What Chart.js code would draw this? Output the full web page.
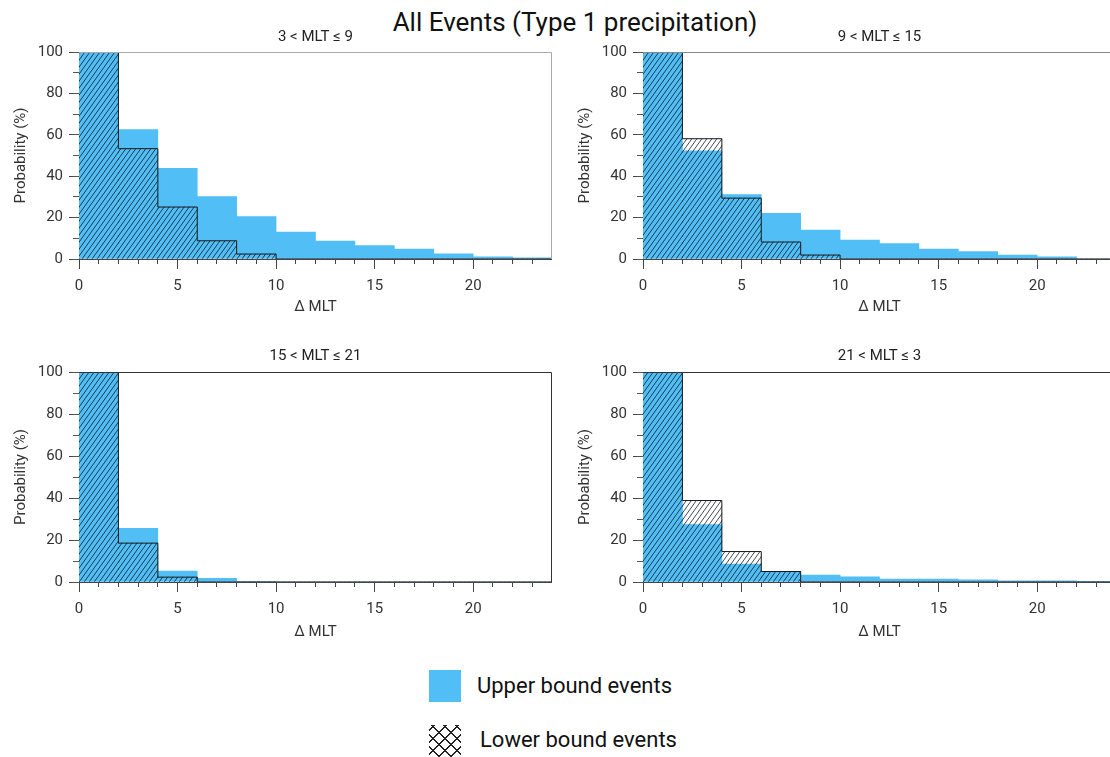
<!DOCTYPE html>
<html>
<head>
<meta charset="utf-8">
<script src="https://cdn.jsdelivr.net/npm/chart.js@4.4.1/dist/chart.umd.min.js"></script>
<style>
  html, body { margin: 0; padding: 0; background: #fff; width: 1110px; height: 757px; overflow: hidden; }
  body { position: relative; font-family: Roboto, "Noto Sans", sans-serif; color: #111; }
  canvas { position: absolute; }
  #main-title { position: absolute; left: 325px; width: 500px; top: 6px; text-align: center; font-size: 26px; line-height: 32px; }
  .swatch { position: absolute; left: 429px; width: 32px; height: 32px; }
  .swatch.blue { top: 670px; background: #51bef6; }
  .swatch.cross { top: 725px; background:
      repeating-linear-gradient(45deg, transparent 0 7px, #222 7px 8.4px),
      repeating-linear-gradient(-45deg, transparent 0 7px, #222 7px 8.4px); }
  .lbl { position: absolute; font-size: 22px; line-height: 26px; color: #111; }
</style>
</head>
<body>
<div id="main-title">All Events (Type 1 precipitation)</div>

<canvas id="c1" width="540" height="291" style="left:12px; top:28px"></canvas>
<canvas id="c2" width="540" height="291" style="left:576px; top:28px"></canvas>
<canvas id="c3" width="540" height="295" style="left:12px; top:347px"></canvas>
<canvas id="c4" width="540" height="295" style="left:576px; top:347px"></canvas>

<div class="swatch blue"></div>
<div class="lbl" style="left:477px; top:673px">Upper bound events</div>
<div class="swatch cross"></div>
<div class="lbl" style="left:480px; top:727px">Lower bound events</div>

<script>
// Bins de ΔMLT (ancho 2 h)
const binEdges = [0, 2, 4, 6, 8, 10, 12, 14, 16, 18, 20, 22, 24];
const xTickLabels = [0, 5, 10, 15, 20];
const yTickLabels = [0, 20, 40, 60, 80, 100];

const panelTitles = ['3 < MLT ≤ 9', '9 < MLT ≤ 15', '15 < MLT ≤ 21', '21 < MLT ≤ 3'];

// Probabilidad (%) por bin
const upperDawn  = [100, 62.5, 43.8, 30.1, 20.5, 13.0, 8.7, 6.5, 4.8, 2.5, 1.1, 0.6];
const lowerDawn  = [100, 53.3, 25.1, 8.8, 2.4, 0, 0, 0, 0, 0, 0, 0];
const upperNoon  = [100, 52.2, 31.1, 22.1, 14.0, 9.2, 7.4, 4.8, 3.6, 1.9, 1.1, 0];
const lowerNoon  = [100, 58.1, 29.4, 8.2, 1.9, 0, 0, 0, 0, 0, 0, 0];
const upperDusk  = [100, 25.6, 5.2, 1.7, 0.3, 0, 0, 0, 0, 0, 0, 0];
const lowerDusk  = [100, 18.5, 2.3, 0, 0, 0, 0, 0, 0, 0, 0, 0];
const upperNight = [100, 27.4, 8.5, 5.0, 3.3, 2.5, 1.4, 1.4, 1.0, 0.6, 0.5, 0.3];
const lowerNight = [100, 38.8, 14.5, 5.0, 0, 0, 0, 0, 0, 0, 0, 0];

const BLUE = '#51bef6';
const FONT = 15;
Chart.defaults.font.family = 'Roboto, "Noto Sans", sans-serif';
Chart.defaults.color = '#333';

// Trama diagonal para los eventos de cota inferior
function makeHatch() {
    const c = document.createElement('canvas');
    c.width = 5; c.height = 7;
    const g = c.getContext('2d');
    g.strokeStyle = 'rgba(10,20,30,0.85)';
    g.lineWidth = 0.9;
    g.beginPath();
    g.moveTo(0, 7); g.lineTo(5, 0);
    g.moveTo(-5, 7); g.lineTo(0, 0);
    g.moveTo(5, 7); g.lineTo(10, 0);
    g.stroke();
    return g.createPattern(c, 'repeat');
}
const hatch = makeHatch();

// Marco superior y derecho del área de datos
const framePlugin = {
    id: 'frame',
    afterDatasetsDraw(chart, args, opts) {
        const { ctx, chartArea: a } = chart;
        ctx.save();
        ctx.strokeStyle = opts.color || '#888';
        ctx.lineWidth = 1;
        ctx.beginPath();
        ctx.moveTo(a.left, a.top + 0.5);
        ctx.lineTo(a.right - 0.5, a.top + 0.5);
        ctx.lineTo(a.right - 0.5, a.bottom);
        ctx.stroke();
        ctx.restore();
    }
};

function barsFrom(values) {
    return values.map((v, i) => ({ x: (binEdges[i] + binEdges[i + 1]) / 2, y: v }));
}

function stepFrom(values) {
    const pts = values.map((v, i) => ({ x: binEdges[i], y: v }));
    pts.push({ x: binEdges[binEdges.length - 1], y: 0 });
    return pts;
}

function crearPanel(id, title, upper, lower, cfg) {
    const ctx = document.getElementById(id).getContext('2d');
    return new Chart(ctx, {
        type: 'bar',
        data: {
            datasets: [
                {
                    type: 'line', label: 'step', data: stepFrom(lower), stepped: true,
                    borderColor: '#1a1a1a', borderWidth: 1, pointRadius: 0, fill: false,
                    xAxisID: 'x', yAxisID: 'y', order: 0
                },
                {
                    label: 'Lower bound events', data: barsFrom(lower), backgroundColor: hatch,
                    borderWidth: 0, xAxisID: 'x', yAxisID: 'y', order: 1
                },
                {
                    label: 'Upper bound events', data: barsFrom(upper), backgroundColor: BLUE,
                    borderWidth: 0, xAxisID: 'x', yAxisID: 'y', order: 2
                }
            ]
        },
        options: {
            responsive: false,
            animation: false,
            layout: { padding: 0 },
            grouped: false,
            barPercentage: 1,
            categoryPercentage: 1,
            plugins: {
                legend: { display: false },
                tooltip: { enabled: false },
                frame: { color: cfg.frameColor }
            },
            scales: {
                // eje superior solo para centrar el título del panel sobre el área de datos
                xTop: {
                    type: 'linear', position: 'top', min: 0, max: 24,
                    afterFit: s => { s.height = cfg.topSpace; },
                    ticks: { display: false },
                    grid: { display: false },
                    border: { display: false },
                    title: { display: true, text: title, color: '#222',
                             font: { size: FONT, lineHeight: '18px' }, padding: 0 }
                },
                x: {
                    type: 'linear', position: 'bottom', min: 0, max: 24, offset: false, weight: 1,
                    afterFit: s => { s.height = 60; },
                    afterBuildTicks: s => { s.ticks = xTickLabels.map(v => ({ value: v })); },
                    ticks: { stepSize: 5, includeBounds: false, autoSkip: false, maxRotation: 0,
                             color: '#333', font: { size: FONT }, padding: 8 },
                    grid: { drawOnChartArea: false, offset: false, tickLength: 10, tickColor: '#444' },
                    border: { color: '#444' },
                    title: { display: true, text: 'Δ MLT', color: '#333', font: { size: FONT, lineHeight: '18px' },
                             padding: { top: 0, bottom: cfg.xTitlePad } }
                },
                xMinor: {
                    type: 'linear', position: 'bottom', min: 0, max: 24, offset: false, weight: 0,
                    afterFit: s => { s.height = 0; },
                    ticks: { display: false, stepSize: 1 },
                    grid: { drawOnChartArea: false, offset: false, tickLength: 5, tickColor: '#444' },
                    border: { display: false }
                },
                y: {
                    type: 'linear', position: 'left', min: 0, max: 100, weight: 1,
                    afterFit: s => { s.width = 67; },
                    afterBuildTicks: s => { s.ticks = yTickLabels.map(v => ({ value: v })); },
                    ticks: { stepSize: 20, color: '#333', font: { size: FONT }, padding: 6 },
                    grid: { drawOnChartArea: false, tickLength: 10, tickColor: '#444' },
                    border: { color: '#444' },
                    title: { display: true, text: 'Probability (%)', color: '#333', font: { size: FONT, lineHeight: '18px' },
                             padding: { top: 0, bottom: 0 } }
                },
                yMinor: {
                    type: 'linear', position: 'left', min: 0, max: 100, weight: 0,
                    afterFit: s => { s.width = 0; },
                    ticks: { display: false, stepSize: 10 },
                    grid: { drawOnChartArea: false, tickLength: 6, tickColor: '#555' },
                    border: { display: false }
                }
            }
        },
        plugins: [framePlugin]
    });
}

const topCfg = { topSpace: 24, xTitlePad: 3, frameColor: '#aaa' };
const botCfg = { topSpace: 25, xTitlePad: 1, frameColor: '#333' };

crearPanel('c1', panelTitles[0], upperDawn, lowerDawn, topCfg);
crearPanel('c2', panelTitles[1], upperNoon, lowerNoon, { ...topCfg, frameColor: '#888' });
crearPanel('c3', panelTitles[2], upperDusk, lowerDusk, botCfg);
crearPanel('c4', panelTitles[3], upperNight, lowerNight, botCfg);
</script>
</body>
</html>
